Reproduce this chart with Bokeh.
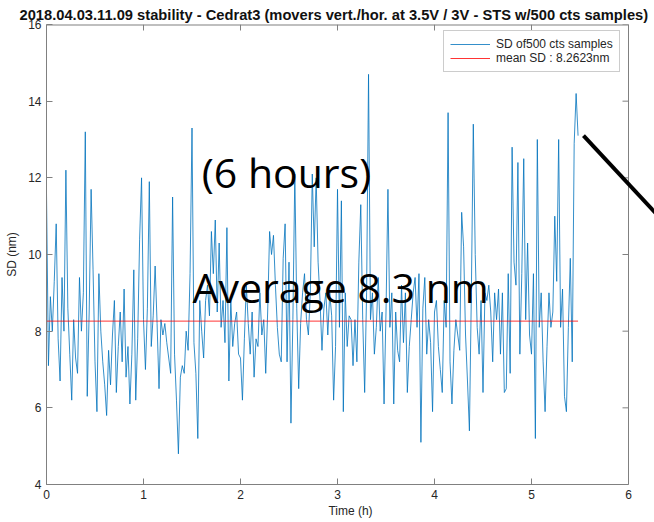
import numpy as np
from bokeh.plotting import figure
from bokeh.models import Range1d, FixedTicker, Label, Arrow, Title
from bokeh.embed import file_html
from bokeh.resources import INLINE

# ---- data ----
sd_nm = [
    11.6, 7.1, 8.9, 8.0, 9.3, 10.8, 7.8, 6.7, 9.4, 8.0,
    12.2, 8.6, 7.4, 6.2, 8.3, 7.3, 6.9, 9.4, 8.0, 9.0,
    13.2, 6.3, 8.5, 11.7, 9.6, 7.2, 5.9, 9.5, 8.0, 7.2,
    6.6, 5.8, 7.5, 6.6, 7.9, 8.8, 6.4, 7.6, 8.5, 7.2,
    9.1, 6.8, 7.6, 6.1, 7.4, 9.6, 6.2, 7.8, 10.4, 12.0,
    8.3, 7.0, 8.6, 11.9, 7.6, 8.4, 9.7, 8.2, 6.5, 8.3,
    7.9, 8.2, 7.7, 7.3, 6.9, 11.5, 7.4, 6.2, 4.8, 6.8,
    7.1, 6.9, 8.0, 7.5, 9.5, 13.3, 7.7, 6.9, 5.2, 8.8,
    8.0, 7.3, 8.8, 9.2, 8.4, 10.6, 9.5, 10.9, 8.5, 10.3,
    8.1, 8.8, 7.7, 10.7, 6.7, 8.8, 7.6, 8.2, 8.5, 7.4,
    7.3, 6.2, 7.8, 9.2, 8.2, 7.4, 8.5, 6.8, 7.8, 7.6,
    9.0, 7.9, 8.3, 6.9, 8.5, 10.6, 10.0, 10.5, 9.2, 8.1,
    7.4, 7.2, 9.9, 10.8, 7.2, 9.8, 5.6, 8.3, 12.1, 8.6,
    6.5, 8.2, 9.0, 9.5, 8.3, 7.9, 9.0, 12.1, 10.2, 12.0,
    9.8, 8.8, 7.5, 8.6, 9.0, 7.9, 9.0, 8.4, 6.2, 7.6,
    11.7, 8.1, 11.4, 5.9, 9.0, 7.6, 8.4, 8.3, 7.1, 8.3,
    7.2, 9.8, 11.3, 8.3, 6.4, 9.0, 14.7, 8.3, 9.0, 7.4,
    8.1, 9.4, 8.0, 8.5, 6.1, 8.5, 11.7, 8.1, 9.0, 6.1,
    8.5, 7.5, 7.2, 9.2, 7.7, 9.0, 6.4, 7.6, 8.3, 9.0,
    9.4, 8.1, 9.5, 5.1, 8.6, 9.4, 7.4, 8.3, 7.7, 5.9,
    8.5, 8.8, 7.6, 7.0, 6.4, 8.8, 8.1, 13.7, 7.2, 6.1,
    7.5, 8.3, 7.9, 7.5, 11.1, 10.2, 7.9, 6.7, 5.4, 9.0,
    13.4, 10.0, 8.1, 7.4, 8.8, 6.4, 9.0, 8.8, 9.2, 8.5,
    7.2, 9.0, 8.3, 9.1, 7.4, 9.0, 6.4, 6.5, 9.5, 6.9,
    12.8, 9.8, 9.2, 12.4, 7.4, 9.5, 12.5, 8.3, 10.3, 7.9,
    7.4, 9.5, 5.2, 13.0, 8.1, 9.0, 7.2, 5.9, 7.6, 9.0,
    8.1, 8.5, 11.0, 9.3, 13.0, 8.1, 9.1, 6.3, 5.9, 8.1,
    9.9, 7.2, 12.9, 14.2, 13.1,
]
sample_step_h = 0.02
time_h = [round(i * sample_step_h, 2) for i in range(len(sd_nm))]
mean_sd = 8.2623

x_ticks = [0, 1, 2, 3, 4, 5, 6]
y_ticks = [4, 6, 8, 10, 12, 14, 16]
x_lim = (0, 6)
y_lim = (4, 16)

title_text = "2018.04.03.11.09 stability - Cedrat3 (movers vert./hor. at 3.5V / 3V - STS w/500 cts samples)"
series_label = "SD of500 cts samples"
mean_label = "mean SD : 8.2623nm"

AX = "#808080"
TXT = "#262626"
FONT = "Liberation Sans"

W, H = 654, 522
B_LEFT, B_TOP, B_BOTTOM = 46, 24, 38
AXES_W = 582                     # pixel width of the 0..6 axes box
FRAME_W = W - B_LEFT             # frame runs to the right edge of the page
FRAME_H = H - B_TOP - B_BOTTOM
px_per_x = AXES_W / (x_lim[1] - x_lim[0])
px_per_y = FRAME_H / (y_lim[1] - y_lim[0])
x_end = x_lim[0] + FRAME_W / px_per_x

p = figure(width=W, height=H, output_backend="svg", toolbar_location=None,
           x_range=Range1d(x_lim[0], x_end), y_range=Range1d(*y_lim),
           min_border_left=B_LEFT, min_border_right=0, min_border_top=B_TOP,
           min_border_bottom=B_BOTTOM)
p.title = Title(text=title_text, align="left", offset=-27, standoff=4,
                text_font=FONT, text_font_size="14.7px", text_font_style="bold",
                text_color="#111111")
p.background_fill_color = "white"
p.border_fill_color = "white"
p.outline_line_color = None
p.grid.visible = False

for ax, ticks in ((p.xaxis[0], x_ticks), (p.yaxis[0], y_ticks)):
    ax.ticker = FixedTicker(ticks=ticks)
    ax.major_tick_in = 6
    ax.major_tick_out = 0
    ax.minor_tick_in = 0
    ax.minor_tick_out = 0
    ax.axis_line_color = AX
    ax.major_tick_line_color = AX
    ax.major_label_text_font = FONT
    ax.major_label_text_font_size = "12px"
    ax.major_label_text_color = TXT
    ax.axis_label_text_font = FONT
    ax.axis_label_text_font_size = "12px"
    ax.axis_label_text_font_style = "normal"
    ax.axis_label_text_color = TXT

p.xaxis[0].bounds = x_lim
p.xaxis[0].axis_label = "Time (h)"
p.xaxis[0].major_label_standoff = 5
p.xaxis[0].axis_label_standoff = 2
p.yaxis[0].axis_label = "SD (nm)"
p.yaxis[0].major_label_standoff = 5
p.yaxis[0].axis_label_standoff = 6

# box edges (top / right) with inward ticks, MATLAB style
tick_px = 6
dx = tick_px / px_per_x
dy = tick_px / px_per_y
p.line([x_lim[0], x_lim[1]], [y_lim[1], y_lim[1]], color=AX, line_width=2)
p.line([x_lim[1], x_lim[1]], [y_lim[0], y_lim[1]], color=AX, line_width=1)
p.segment(x0=x_ticks, x1=x_ticks, y0=[y_lim[1]] * len(x_ticks),
          y1=[y_lim[1] - dy] * len(x_ticks), color=AX, line_width=1)
p.segment(x0=[x_lim[1]] * len(y_ticks), x1=[x_lim[1] - dx] * len(y_ticks),
          y0=y_ticks, y1=y_ticks, color=AX, line_width=1)

p.line(time_h, sd_nm, color="#0072BD", line_width=0.8, legend_label=series_label)
p.line([time_h[0], time_h[-1]], [mean_sd, mean_sd], color="#FF0000", line_width=0.8,
       legend_label=mean_label)

lg = p.legend[0]
lg.location = (397, 412)
lg.margin = 0
lg.padding = 6
lg.spacing = 0
lg.label_height = 14
lg.glyph_height = 14
lg.glyph_width = 40
lg.label_standoff = 6
lg.label_text_font = FONT
lg.label_text_font_size = "12px"
lg.label_text_color = TXT
lg.border_line_color = "#999999"
lg.background_fill_color = "white"

p.add_layout(Label(x=1.60, y=12.15, text="(6 hours)", text_font="Open Sans",
                   text_font_size="41px", text_baseline="alphabetic", text_color="black"))
p.add_layout(Label(x=1.505, y=9.15, text="Average 8.3 nm", text_font="Open Sans",
                   text_font_size="41px", text_baseline="alphabetic", text_color="black"))

p.add_layout(Arrow(end=None, x_start=5.536, y_start=13.10, x_end=6.54, y_end=10.37,
                   line_width=4, line_color="black"))

open("out.html", "w").write(file_html(p, INLINE))
